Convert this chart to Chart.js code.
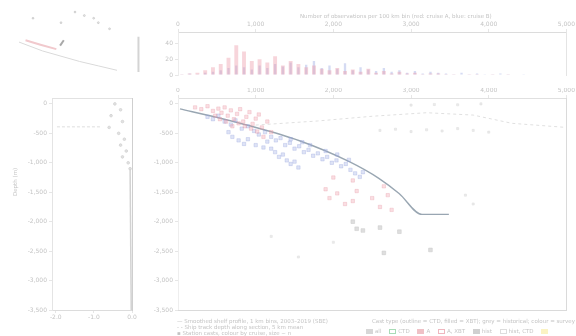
<!DOCTYPE html>
<html>
<head>
<meta charset="utf-8">
<script src="https://cdn.jsdelivr.net/npm/chart.js@4/dist/chart.umd.min.js"></script>
<style>
  body { margin: 0; width: 576px; height: 336px; background: #fff; position: relative; overflow: hidden;
         font-family: "DejaVu Sans", sans-serif; color: #c4c4c4; }
  canvas { position: absolute; }
  .txt { position: absolute; font-size: 5.5px; white-space: nowrap; color: #c4c4c4; }
  .box { display: inline-block; width: 7px; height: 5px; margin: 0 2px 0 6px; vertical-align: middle; }
</style>
</head>
<body>
<canvas id="thumb" width="150" height="85" style="left:0;top:0"></canvas>
<canvas id="hist" width="436" height="85" style="left:140px;top:0"></canvas>
<canvas id="prof" width="150" height="240" style="left:0;top:88px"></canvas>
<canvas id="main" width="436" height="230" style="left:140px;top:88px"></canvas>

<div class="txt" style="left:300px;top:13px">Number of observations per 100 km bin (red: cruise A, blue: cruise B)</div>
<div class="txt" style="left:12px;top:196px;transform:rotate(-90deg);transform-origin:left top">Depth (m)</div>
<div class="txt" style="left:177px;top:318px;line-height:6px">
  — Smoothed shelf profile, 1 km bins, 2003–2019 (SBE)<br>
  - - Ship track depth along section, 5 km mean<br>
  ▪ Station casts, colour by cruise, size ~ n
</div>
<div class="txt" style="left:372px;top:318px">Cast type (outline = CTD, filled = XBT); grey = historical; colour = survey</div>
<div class="txt" style="left:366px;top:328px">
  <span class="box" style="background:#d7d7d7;margin-left:0"></span>all
  <span class="box" style="border:1px solid #a8dcb6;width:5px;height:3px"></span>CTD
  <span class="box" style="background:#efc1c6"></span>A
  <span class="box" style="border:1px solid #efb7bf;width:5px;height:3px"></span>A, XBT
  <span class="box" style="background:#d0d0d0"></span>hist
  <span class="box" style="border:1px solid #ddd;width:5px;height:3px"></span>hist, CTD
  <span class="box" style="background:#fbf3c3"></span>
</div>

<script>
// ---- data ----
// histogram bins, 100 km each, 0..5000
const histRed = [1,2,3,6,10,14,22,38,30,18,20,16,24,12,18,14,10,12,8,6,9,5,7,4,8,3,5,2,4,2,3,1,2,2,1,1,0,1,1,0,1,0,1,0,0,0,0,0,0,0];
const histBlue = [1,2,1,3,4,6,9,12,10,7,12,9,14,11,16,10,13,18,9,12,8,15,6,10,7,5,9,4,6,3,5,2,4,3,2,1,3,1,2,1,1,2,1,0,1,0,0,0,0,0];
const xTicks = [0, 1000, 2000, 3000, 4000, 5000];
const depthTicks = [0, -500, -1000, -1500, -2000, -2500, -3000, -3500];

// main panel: distance (km) vs depth (m)
const shelfLine = [[26,-85],[500,-230],[923,-372],[1564,-626],[2205,-981],[2590,-1268],[2846,-1522],[3141,-1877],[3487,-1877]];
const trackLine = [[1000,-360],[1800,-290],[2500,-210],[3200,-150],[3800,-190],[4300,-330],[5000,-400]];
const redPts = [[220,-60],[300,-90],[380,-40],[450,-120],[520,-80],[560,-150],[600,-60],[640,-200],[680,-110],[720,-260],
  [760,-170],[800,-90],[840,-300],[880,-220],[920,-140],[960,-340],[1000,-250],[1040,-180],[1080,-400],[1020,-470],
  [940,-420],[860,-380],[780,-330],[700,-380],[620,-300],[540,-260],[480,-200],[1100,-560],[1150,-300],[1200,-480],
  [1900,-1450],[1950,-1600],[2050,-1520],[2150,-1700],[2250,-1650],[2300,-1480],[2500,-1600],[2600,-1750],
  [2700,-1550],[2750,-1800],[2250,-1300],[2650,-1400],[2000,-1250]];
const bluePts = [[380,-220],[450,-260],[520,-200],[600,-300],[680,-350],[740,-280],[820,-420],[900,-380],[980,-460],[1040,-520],
  [1120,-480],[1200,-560],[1260,-620],[1320,-580],[1380,-700],[1440,-660],[1500,-760],[1560,-720],[1620,-820],[1680,-780],
  [1740,-880],[1800,-840],[1860,-940],[1920,-900],[1980,-1000],[2040,-960],[2100,-1060],[2160,-1020],[2220,-1120],[2280,-1180],
  [2340,-1240],[2380,-1160],[1700,-700],[1900,-800],[2050,-860],[2200,-950],[1600,-650],[1450,-600],
  [1250,-820],[1300,-900],[1350,-860],[1400,-960],[1450,-1020],[1500,-980],[1550,-1080],[1200,-760],
  [700,-560],[780,-620],[850,-680],[900,-600],[650,-480],[1150,-640],[1000,-700],[1100,-740]];
const greyPts = [[2300,-2120],[2380,-2150],[2600,-2100],[2850,-2170],[2650,-2530],[3250,-2480],[2250,-2000]];
const faintPts = [[2600,-450],[2800,-430],[3000,-470],[3200,-440],[3400,-460],[3600,-420],[3800,-450],[4000,-480],
  [3000,-20],[3300,-10],[3600,-15],[3900,0],[3700,-1550],[3800,-1700],[1200,-2250],[1550,-2600],[2000,-2350]];

// left panel: anomaly profile
const profPts = [[-0.45,0],[-0.3,-100],[-0.55,-200],[-0.25,-300],[-0.6,-400],[-0.35,-500],[-0.2,-600],
  [-0.3,-700],[-0.15,-800],[-0.25,-900],[-0.1,-1000],[-0.05,-1100]];
const profLine = [[-0.05,-1100],[-0.02,-3500]];
const profRef = [[-1.97,-390],[-0.8,-390]];
const profX = [-2, -1, 0];

// inset sketch (section location)
const coast = [[15,-42],[40,-52],[60,-58],[80,-64],[100,-69],[120,-74]];
const trackRed = [[22,-40],[38,-45],[55,-50]];
const trackDark = [[59,-46],[63,-40]];
const insetDots = [[75,-8],[100,-20],[112,-27],[95,-15],[60,-20],[85,-12],[30,-15]];
const insetBar = [[143,-36],[143,-76]];

// ---- helpers ----
const txt = '#c4c4c4';
const gridC = '#e6e6e6';
const fnt = { family: 'DejaVu Sans', size: 6 };
const pts = a => a.map(p => ({ x: p[0], y: p[1] }));
const fixW = w => s => { s.width = w; };
const fixH = h => s => { s.height = h; };
const onlyTicks = list => s => { s.ticks = list.map(v => ({ value: v })); };
Chart.defaults.animation = false;
Chart.defaults.font = fnt;
Chart.defaults.color = txt;

const base = {
  responsive: false,
  plugins: { legend: { display: false }, tooltip: { enabled: false } }
};

// inset
new Chart(document.getElementById('thumb'), {
  type: 'scatter',
  data: { datasets: [
    { type: 'line', data: pts(coast), borderColor: '#dadada', borderWidth: 1, pointRadius: 0 },
    { type: 'line', data: pts(trackRed), borderColor: '#f1c9cd', borderWidth: 2, pointRadius: 0 },
    { type: 'line', data: pts(trackDark), borderColor: '#a9a9a9', borderWidth: 2, pointRadius: 0 },
    { type: 'line', data: pts(insetBar), borderColor: '#d4d4d4', borderWidth: 2, pointRadius: 0 },
    { data: pts(insetDots), backgroundColor: '#e4e4e4', pointRadius: 1 }
  ] },
  options: { ...base, layout: { padding: 0 },
    scales: { x: { display: false, min: 0, max: 150 }, y: { display: false, min: -85, max: 0 } } }
});

// histogram
const binLabels = histRed.map((_, i) => i * 100 + 50);
new Chart(document.getElementById('hist'), {
  type: 'bar',
  data: { labels: binLabels, datasets: [
    { data: histRed, backgroundColor: 'rgba(235,150,165,0.4)', grouped: false, barPercentage: 0.5, categoryPercentage: 1 },
    { data: histBlue, backgroundColor: 'rgba(150,165,225,0.4)', grouped: false, barPercentage: 0.3, categoryPercentage: 1 }
  ] },
  options: { ...base, layout: { padding: { right: 8, bottom: 10 } },
    scales: {
      x: { display: false },
      xt: { type: 'linear', position: 'top', offset: false, min: 0, max: 5000, afterFit: fixH(32), afterBuildTicks: onlyTicks(xTicks),
        grid: { drawOnChartArea: false, offset: false, color: gridC, tickLength: 3 }, border: { color: '#dcdcdc' },
        ticks: { padding: 1, callback: v => v === 0 ? '0' : v.toLocaleString('en-US') } },
      y: { min: 0, max: 55, afterFit: fixW(38), afterBuildTicks: onlyTicks([0, 20, 40]),
        grid: { drawOnChartArea: false, color: gridC, tickLength: 3 }, border: { color: '#ececec' }, ticks: { padding: 2 } },
      yr: { position: 'right', display: true, afterFit: fixW(0), ticks: { display: false },
        grid: { display: false }, border: { color: '#e4e4e4' } }
    } }
});

// left profile
new Chart(document.getElementById('prof'), {
  type: 'scatter',
  data: { datasets: [
    { type: 'line', data: pts(profLine), borderColor: '#d2d2d2', borderWidth: 1.5, pointRadius: 0 },
    { type: 'line', data: pts(profRef), borderColor: '#dedede', borderWidth: 1, borderDash: [3, 2], pointRadius: 0 },
    { data: pts(profPts), backgroundColor: '#e2e2e2', borderColor: '#d6d6d6', pointRadius: 1.3 }
  ] },
  options: { ...base, layout: { padding: { top: 10, right: 18 } },
    scales: {
      x: { min: -2.1, max: 0, afterFit: fixH(18), afterBuildTicks: onlyTicks(profX),
        grid: { drawOnChartArea: false, color: gridC, tickLength: 3 }, border: { color: '#dcdcdc' },
        ticks: { padding: 1, callback: v => v.toFixed(1) } },
      y: { min: -3500, max: 100, afterFit: fixW(52), afterBuildTicks: onlyTicks(depthTicks),
        grid: { drawOnChartArea: false, color: gridC, tickLength: 3 }, border: { color: '#e4e4e4' },
        ticks: { padding: 2 } },
      xt: { type: 'linear', position: 'top', min: -2.1, max: 0, afterFit: fixH(0), ticks: { display: false },
        grid: { display: false }, border: { color: '#e2e2e2' } },
      yr: { position: 'right', min: -3500, max: 100, afterFit: fixW(0), ticks: { display: false },
        grid: { display: false }, border: { color: '#cfcfcf' } }
    } }
});

// main section
new Chart(document.getElementById('main'), {
  type: 'scatter',
  data: { datasets: [
    { type: 'line', data: pts(trackLine), borderColor: '#e0e0e0', borderWidth: 1, borderDash: [3, 3], pointRadius: 0 },
    { data: pts(faintPts), pointStyle: 'rect', backgroundColor: '#ececec', borderColor: '#dcdcdc', borderWidth: 0.5, pointRadius: 1.5 },
    { data: pts(greyPts), pointStyle: 'rect', backgroundColor: 'rgba(190,190,190,0.5)', borderColor: '#c8c8c8', borderWidth: 0.5, pointRadius: 2.6 },
    { data: pts(redPts), pointStyle: 'rect', backgroundColor: 'rgba(240,160,172,0.35)', borderColor: 'rgba(225,140,155,0.45)', borderWidth: 0.6, pointRadius: 2.4 },
    { data: pts(bluePts), pointStyle: 'rect', backgroundColor: 'rgba(160,175,230,0.35)', borderColor: 'rgba(135,150,215,0.45)', borderWidth: 0.6, pointRadius: 2.4 },
    { type: 'line', data: pts(shelfLine), borderColor: 'rgba(135,150,165,0.85)', borderWidth: 1.4, pointRadius: 0, cubicInterpolationMode: 'monotone' }
  ] },
  options: { ...base, layout: { padding: { right: 8, bottom: 8 } },
    scales: {
      x: { position: 'top', min: 0, max: 5000, afterFit: fixH(10), afterBuildTicks: onlyTicks(xTicks),
        grid: { drawOnChartArea: false, color: gridC, tickLength: 3 }, border: { color: '#e0e0e0' },
        ticks: { padding: 1, callback: v => v === 0 ? '0' : v.toLocaleString('en-US') } },
      y: { min: -3500, max: 100, afterFit: fixW(38), afterBuildTicks: onlyTicks(depthTicks),
        grid: { drawOnChartArea: false, color: gridC, tickLength: 3 }, border: { color: '#eeeeee' },
        ticks: { padding: 2 } },
      xb: { type: 'linear', position: 'bottom', min: 0, max: 5000, afterFit: fixH(0), ticks: { display: false },
        grid: { display: false }, border: { color: '#dadada' } },
      yr: { position: 'right', min: -3500, max: 100, afterFit: fixW(0), ticks: { display: false },
        grid: { display: false }, border: { color: '#dadada' } }
    } }
});
</script>
</body>
</html>
